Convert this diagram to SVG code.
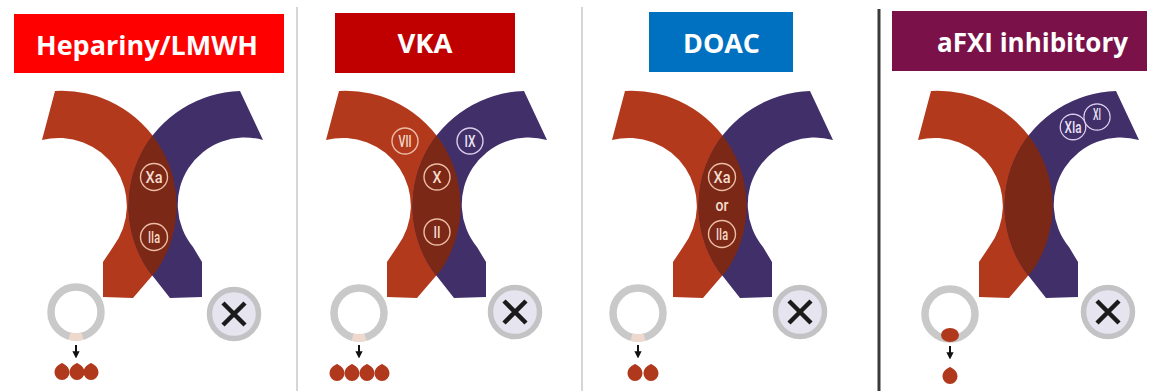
<svg xmlns="http://www.w3.org/2000/svg" xmlns:xlink="http://www.w3.org/1999/xlink" width="1160" height="391" viewBox="0 0 1160 391">
  <style>
    .title { font-family: "Open Sans", "Liberation Sans", sans-serif; font-weight: 700; fill: #ffffff; text-anchor: middle; }
    .red { fill: #b2391c; }
    .purple { fill: #412f6a; }
    .overlap { fill: #7b2816; }
    .fac { fill: none; stroke: #ecbca4; stroke-width: 1.4; }
    .facp { fill: none; stroke: #d9cdea; stroke-width: 1.4; }
    .lbl { font-family: "Roboto", "Liberation Sans", sans-serif; font-weight: 500; font-size: 17px; fill: #f6dccd; text-anchor: middle; }
    .lblp { font-family: "Roboto", "Liberation Sans", sans-serif; font-weight: 500; font-size: 16px; fill: #ebe4f4; text-anchor: middle; }
    .ring { fill: #ffffff; stroke: #c9c9c9; stroke-width: 7.5; }
    .plug { fill: none; stroke: #efd9cf; stroke-width: 7.5; }
    .stop { fill: #e6e5ef; stroke: #c3c3c6; stroke-width: 5.5; }
    .cross { stroke: #1b1b1b; stroke-width: 4.5; }
    .drop { fill: #b0381c; }
    .arrow { stroke: #111111; stroke-width: 2; fill: none; marker-end: url(#ah); }
    .sep { stroke: #d6d6d6; stroke-width: 2; }
  </style>
  <defs>
    <marker id="ah" viewBox="0 0 10 10" refX="1" refY="5" markerWidth="3.6" markerHeight="3.6" orient="auto">
      <path d="M0,0 L10,5 L0,10 Z" fill="#111111"/>
    </marker>
    <!-- two crossing crescents (coagulation pathways) -->
    <path id="redBand" d="M55,91 A115,115 0 0 1 157,270 L133,298 L103,297 L103,262 L113,247 A68,68 0 0 0 42,140 Z"/>
    <path id="purpleBand" d="M240,91 A115,115 0 0 0 148,270 L170,298 L202,297 L202,262 L193,247 A67,67 0 0 1 263,140 Z"/>
    <clipPath id="purpleClip">
      <use xlink:href="#purpleBand"/>
    </clipPath>
    <g id="cross">
      <use xlink:href="#redBand" class="red"/>
      <use xlink:href="#purpleBand" class="purple"/>
      <use xlink:href="#redBand" class="overlap" clip-path="url(#purpleClip)"/>
    </g>
    <path id="dropShape" d="M0,-9 C2.5,-7.5 7.5,-5.5 7.5,0.5 A7.5,7.5 0 0 1 -7.5,0.5 C-7.5,-5.5 -2.5,-7.5 0,-9 Z"/>
    <g id="vessel">
      <circle class="ring" cx="0" cy="0" r="25"/>
    </g>
    <g id="blocked">
      <circle class="stop" cx="0" cy="0" r="24.5"/>
      <path class="cross" d="M-11,-11 L11,11 M11,-11 L-11,11"/>
    </g>
  </defs>

  <rect x="0" y="0" width="1160" height="391" fill="#ffffff"/>

  <!-- panel separators -->
  <line class="sep" x1="297" y1="7" x2="297" y2="391"/>
  <line class="sep" x1="582" y1="7" x2="582" y2="391"/>
  <line x1="879" y1="9" x2="879" y2="391" stroke="#3a3a3a" stroke-width="3"/>

  <!-- Heparins / LMWH -->
  <g id="panel-heparin">
    <rect x="14" y="14" width="270" height="59" fill="#ff0000"/>
    <text class="title" x="147" y="55" font-size="27" textLength="222" lengthAdjust="spacingAndGlyphs">Hepariny/LMWH</text>
    <use xlink:href="#cross"/>
    <circle class="fac" cx="154" cy="177" r="13.5"/>
    <text class="lbl" x="154" y="183" textLength="17" lengthAdjust="spacingAndGlyphs">Xa</text>
    <circle class="fac" cx="154" cy="237" r="13.5"/>
    <text class="lbl" x="154" y="243" textLength="12" lengthAdjust="spacingAndGlyphs">IIa</text>
    <use xlink:href="#vessel" x="76" y="312"/>
    <path class="plug" d="M82.5,336.1 A25,25 0 0 1 69.5,336.1"/>
    <use xlink:href="#blocked" x="234" y="314"/>
    <use xlink:href="#dropShape" class="drop" x="62" y="372"/>
    <use xlink:href="#dropShape" class="drop" x="77" y="372"/>
    <use xlink:href="#dropShape" class="drop" x="91" y="372"/>
  </g>

  <!-- VKA -->
  <g id="panel-vka">
    <rect x="335" y="13" width="180" height="60" fill="#c00000"/>
    <text class="title" x="425" y="53" font-size="27" textLength="55" lengthAdjust="spacingAndGlyphs">VKA</text>
    <use xlink:href="#cross" x="284"/>
    <circle class="fac" cx="405" cy="141" r="13"/>
    <text class="lbl" x="405" y="147" textLength="13" lengthAdjust="spacingAndGlyphs">VII</text>
    <circle class="facp" cx="470" cy="141" r="13"/>
    <text class="lblp" x="470" y="147" font-size="17" textLength="11" lengthAdjust="spacingAndGlyphs">IX</text>
    <circle class="fac" cx="437" cy="177" r="13"/>
    <text class="lbl" x="437" y="183" textLength="9" lengthAdjust="spacingAndGlyphs">X</text>
    <circle class="fac" cx="437" cy="232" r="13"/>
    <text class="lbl" x="437" y="238" textLength="7" lengthAdjust="spacingAndGlyphs">II</text>
    <use xlink:href="#vessel" x="359" y="313"/>
    <path class="plug" d="M365.5,337.1 A25,25 0 0 1 352.5,337.1"/>
    <use xlink:href="#blocked" x="515" y="312"/>
    <use xlink:href="#dropShape" class="drop" x="337" y="373"/>
    <use xlink:href="#dropShape" class="drop" x="352" y="373"/>
    <use xlink:href="#dropShape" class="drop" x="367" y="373"/>
    <use xlink:href="#dropShape" class="drop" x="382" y="373"/>
  </g>

  <!-- DOAC -->
  <g id="panel-doac">
    <rect x="649" y="12" width="144" height="60" fill="#0070c0"/>
    <text class="title" x="721.5" y="53" font-size="27" textLength="77" lengthAdjust="spacingAndGlyphs">DOAC</text>
    <use xlink:href="#cross" x="570"/>
    <circle class="fac" cx="722" cy="177" r="13.5"/>
    <text class="lbl" x="722" y="183" textLength="17" lengthAdjust="spacingAndGlyphs">Xa</text>
    <text class="lbl" x="722" y="211" textLength="13" lengthAdjust="spacingAndGlyphs">or</text>
    <circle class="fac" cx="722" cy="234" r="13.5"/>
    <text class="lbl" x="722" y="240" textLength="12" lengthAdjust="spacingAndGlyphs">IIa</text>
    <use xlink:href="#vessel" x="638" y="313"/>
    <path class="plug" d="M644.5,337.1 A25,25 0 0 1 631.5,337.1"/>
    <use xlink:href="#blocked" x="800" y="312"/>
    <use xlink:href="#dropShape" class="drop" x="635" y="373"/>
    <use xlink:href="#dropShape" class="drop" x="651" y="373"/>
  </g>

  <!-- aFXI inhibitors -->
  <g id="panel-afxi">
    <rect x="892" y="11" width="255" height="60" fill="#7a1249"/>
    <text class="title" x="1032.5" y="52" font-size="27" textLength="191" lengthAdjust="spacingAndGlyphs">aFXI inhibitory</text>
    <use xlink:href="#cross" x="876"/>
    <!-- merged XIa / XI outline -->
    <circle class="facp" cx="1073" cy="127" r="12.7"/>
    <circle class="facp" cx="1097" cy="117" r="13"/>
    <circle class="purple" cx="1073" cy="127" r="12"/>
    <circle class="purple" cx="1097" cy="117" r="12.3"/>
    <text class="lblp" x="1073" y="133" textLength="17" lengthAdjust="spacingAndGlyphs">XIa</text>
    <text class="lblp" x="1097" y="120" font-size="14" textLength="8" lengthAdjust="spacingAndGlyphs">XI</text>
    <use xlink:href="#vessel" x="950" y="314"/>
    <ellipse class="drop" cx="950" cy="335" rx="9" ry="7"/>
    <use xlink:href="#blocked" x="1108" y="312"/>
    <use xlink:href="#dropShape" class="drop" x="950" y="376"/>
  </g>

  <!-- bleeding arrows -->
  <g id="connectors">
    <line class="arrow" x1="76" y1="345" x2="76" y2="352"/>
    <line class="arrow" x1="359" y1="345" x2="359" y2="352"/>
    <line class="arrow" x1="638" y1="345" x2="638" y2="352"/>
    <line class="arrow" x1="950" y1="346" x2="950" y2="353"/>
  </g>
</svg>
